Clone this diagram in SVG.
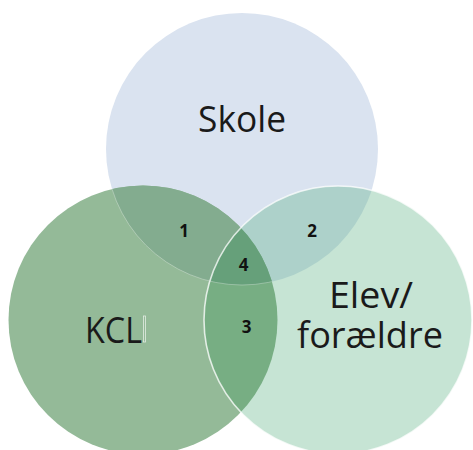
<svg xmlns="http://www.w3.org/2000/svg" width="473" height="450" viewBox="0 0 473 450">
<style>
.lbl{font-family:"Open Sans","Noto Sans",sans-serif;font-size:36px;fill:#1a1a1a;text-anchor:middle}
.num{font-family:"Open Sans","Noto Sans",sans-serif;font-size:17px;font-weight:bold;fill:#111;text-anchor:middle}
.art{fill:none;stroke:#e4ece4;stroke-width:0.8}
</style>
<defs>
<circle id="cTop" cx="242" cy="149" r="136"/>
<circle id="cLeft" cx="143" cy="320" r="134.5"/>
<circle id="cRight" cx="338" cy="320" r="134"/>
<clipPath id="clipLeft"><use href="#cLeft"/></clipPath>
<clipPath id="clipRight"><use href="#cRight"/></clipPath>
</defs>
<rect width="473" height="450" fill="#ffffff"/>
<g id="skole">
<use href="#cTop" fill="#DAE3F0"/>
</g>
<g id="kcl">
<use href="#cLeft" fill="#94BA98"/>
</g>
<g id="elev">
<use href="#cRight" fill="#C6E4D4"/>
</g>
<g id="overlaps">
<g id="region1" clip-path="url(#clipLeft)"><use href="#cTop" fill="#83AC8F"/></g>
<g id="region2" clip-path="url(#clipRight)"><use href="#cTop" fill="#ADD1CA"/></g>
<g id="region3" clip-path="url(#clipLeft)"><use href="#cRight" fill="#77AE83"/></g>
<g id="region4" clip-path="url(#clipLeft)"><g clip-path="url(#clipRight)"><use href="#cTop" fill="#66A07A"/></g></g>
</g>
<g id="outlines">
<use href="#cRight" fill="none" stroke="#ffffff" stroke-width="1.6" stroke-opacity="0.75"/>
<g clip-path="url(#clipLeft)"><use href="#cTop" fill="none" stroke="#ffffff" stroke-width="1" stroke-opacity="0.3"/></g>
</g>
<g id="connectors"/>
<g id="labels">
<text class="lbl" x="242" y="132" textLength="88" lengthAdjust="spacingAndGlyphs">Skole</text>
<text class="lbl" x="113.5" y="343" textLength="57" lengthAdjust="spacingAndGlyphs">KCL</text>
<rect class="art" x="143.5" y="316" width="2" height="26"/>
<text class="lbl" x="371" y="308" textLength="84" lengthAdjust="spacingAndGlyphs">Elev/</text>
<text class="lbl" x="370" y="348" textLength="146" lengthAdjust="spacingAndGlyphs">forældre</text>
<text class="num" x="184" y="237">1</text>
<text class="num" x="312" y="237">2</text>
<text class="num" x="243.5" y="271">4</text>
<text class="num" x="246.5" y="333">3</text>
</g>
</svg>
